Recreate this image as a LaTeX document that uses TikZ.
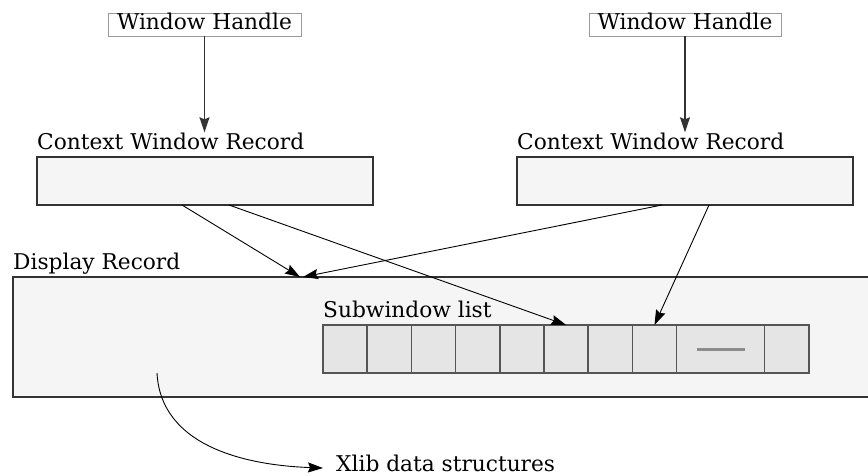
\documentclass[tikz,border=0pt]{standalone}
\usepackage{fontspec}
\setmainfont{DejaVu Serif}
\usetikzlibrary{arrows.meta,calc}
\definecolor{recfill}{HTML}{F5F5F5}
\definecolor{cellfill}{HTML}{E5E5E5}
\definecolor{recline}{HTML}{333333}
\definecolor{cellline}{HTML}{555555}
\definecolor{whline}{HTML}{999999}
\definecolor{dashcol}{HTML}{8C8C8C}
\begin{document}
\begin{tikzpicture}[x=1pt,y=1pt,
  txt/.style={inner sep=0pt, anchor=base west, font=\fontsize{21.7}{25}\selectfont},
  rec/.style={draw=recline, fill=recfill, line width=1.1pt, inner sep=0pt, outer sep=0pt, anchor=north west},
  cellbox/.style={draw=cellline, fill=cellfill, line width=1.5pt, inner sep=0pt, outer sep=0pt, anchor=north west, minimum height=48pt},
  handle/.style={draw=whline, fill=white, line width=1pt, inner xsep=0pt, inner ysep=0pt, outer sep=0pt,
     text height=15.8pt, text depth=7.2pt, font=\fontsize{21.7}{25}\selectfont},
  tip/.style={-{Stealth[length=15pt,width=10pt,inset=2pt]}},
  arr/.style={tip, line width=0.9pt, black},
  varr/.style={tip, line width=1.4pt, recline},
]
\useasboundingbox (0,0) rectangle (868,475);

% Display record
\node[rec, minimum width=900pt, minimum height=120pt] (dr) at (13,198) {};
\node[txt] (drl) at (13,206) {Display Record};
\node[txt] (swl) at (323,158) {Subwindow list};

% cells
\coordinate (c0) at (323,150);
\node[cellbox, minimum width=44.2pt] (c1) at (c0) {};
\foreach \i/\p in {2/1,3/2,4/3,5/4,6/5,7/6,8/7}{
  \node[cellbox, minimum width=44.2pt] (c\i) at (c\p.north east) {};
}
\node[cellbox, minimum width=88pt] (c9) at (c8.north east) {};
\node[cellbox, minimum width=44.2pt] (c10) at (c9.north east) {};
\draw[dashcol, line width=3pt] ([xshift=-24pt]c9.center) -- ([xshift=24pt]c9.center);

% context window records
\node[rec, minimum width=336pt, minimum height=48pt] (cwr1) at (37,318) {};
\node[rec, minimum width=336pt, minimum height=48pt] (cwr2) at (517,318) {};
\node[txt] (cl1) at (37,326) {Context Window Record};
\node[txt] (cl2) at (517,326) {Context Window Record};

% window handles
\node[handle, minimum width=193pt] (wh1) at (204.5,450) {Window Handle};
\node[handle, minimum width=192pt] (wh2) at (685,450) {Window Handle};

\draw[varr] (wh1.south) -- (wh1.south |- cl1.north);
\draw[varr] (wh2.south) -- (wh2.south |- cl2.north);

% connectors
\draw[arr] ([xshift=145pt]cwr1.south west) -- ([xshift=287pt]dr.north west);
\draw[arr] ([xshift=192pt]cwr1.south west) -- (c6.north);
\draw[arr] ([xshift=145pt]cwr2.south west) -- ([xshift=290pt]dr.north west);
\draw[arr] ([xshift=192pt]cwr2.south west) -- (c8.north);

% Xlib
\node[txt, inner xsep=13pt] (xl) at (323,4) {Xlib data structures};
\draw[arr] ([shift={(144pt,24pt)}]dr.south west) to[out=-87,in=178] ([yshift=3pt]xl.base west);
\end{tikzpicture}
\end{document}
